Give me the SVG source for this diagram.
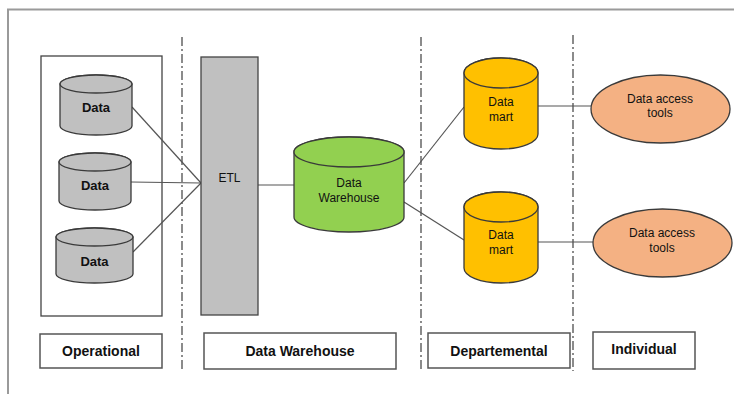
<svg xmlns="http://www.w3.org/2000/svg" width="734" height="394" viewBox="0 0 734 394">
<style>
.cyl{stroke:#3a3a3a;stroke-width:1.3}
.gray{fill:#c0c0c0}
.green{fill:#92d050}
.gold{fill:#ffc000}
.box{fill:#fff;stroke:#555;stroke-width:1.5}
.conn{stroke:#555;stroke-width:1.2;fill:none}
.sep{stroke:#666;stroke-width:1.5;stroke-dasharray:9,3,2,3;fill:none}
.lbl{font-family:"Liberation Sans",Arial,sans-serif;font-weight:bold;font-size:14px;fill:#111;text-anchor:middle}
.dt{font-family:"Liberation Sans",Arial,sans-serif;font-weight:bold;font-size:13px;fill:#111;text-anchor:middle}
.sm{font-family:"Liberation Sans",Arial,sans-serif;font-size:12px;fill:#111;text-anchor:middle}
</style>
<rect width="734" height="394" fill="#fff"/>
<!-- outer frame -->
<path d="M8,394 V9.5 H734" fill="none" stroke="#9a9a9a" stroke-width="2"/>
<g id="operational-group">
<rect x="41" y="56" width="121" height="260" fill="none" stroke="#444" stroke-width="1.3"/>
</g>
<!-- separators -->
<g id="separators">
<line class="sep" x1="182" y1="37" x2="182" y2="371"/>
<line class="sep" x1="421" y1="37" x2="421" y2="371"/>
<line class="sep" x1="573" y1="35" x2="573" y2="371"/>
</g>
<!-- connectors -->
<g id="connectors">
<line class="conn" x1="132" y1="107" x2="201" y2="183"/>
<line class="conn" x1="131" y1="182" x2="201" y2="183"/>
<line class="conn" x1="133" y1="252" x2="201" y2="183"/>
<line class="conn" x1="258" y1="185" x2="294" y2="185"/>
<line class="conn" x1="404" y1="183" x2="464" y2="107"/>
<line class="conn" x1="404" y1="202" x2="464" y2="240"/>
<line class="conn" x1="538" y1="106" x2="591" y2="106"/>
<line class="conn" x1="538" y1="242" x2="593" y2="242"/>
</g>
<g id="data1">
<path class="cyl gray" d="M60,84 A36,9 0 0 1 132,84 V126 A36,9 0 0 1 60,126 Z"/>
<ellipse class="cyl gray" cx="96" cy="84" rx="36" ry="9"/>
<text class="dt" x="96" y="112">Data</text>
</g>
<g id="data2">
<path class="cyl gray" d="M59,162 A36,9 0 0 1 131,162 V201 A36,9 0 0 1 59,201 Z"/>
<ellipse class="cyl gray" cx="95" cy="162" rx="36" ry="9"/>
<text class="dt" x="95" y="190">Data</text>
</g>
<g id="data3">
<path class="cyl gray" d="M56,237 A38.5,9 0 0 1 133,237 V274 A38.5,9 0 0 1 56,274 Z"/>
<ellipse class="cyl gray" cx="94.5" cy="237" rx="38.5" ry="9"/>
<text class="dt" x="94.5" y="266">Data</text>
</g>
<g id="etl">
<rect x="201" y="57" width="57" height="258" class="gray" stroke="#444" stroke-width="1.3"/>
<text class="sm" x="229.5" y="182">ETL</text>
</g>
<g id="data-warehouse">
<path class="cyl green" d="M294,152 A55,15 0 0 1 404,152 V217 A55,15 0 0 1 294,217 Z"/>
<ellipse class="cyl green" cx="349" cy="152" rx="55" ry="15"/>
<text class="sm" x="349" y="187">Data</text>
<text class="sm" x="349" y="202">Warehouse</text>
</g>
<g id="datamart1">
<path class="cyl gold" d="M464,73 A37,15 0 0 1 538,73 V134 A37,15 0 0 1 464,134 Z"/>
<ellipse class="cyl gold" cx="501" cy="73" rx="37" ry="15"/>
<text class="sm" x="501" y="106">Data</text>
<text class="sm" x="501" y="121">mart</text>
</g>
<g id="datamart2">
<path class="cyl gold" d="M464,207 A37,15 0 0 1 538,207 V268 A37,15 0 0 1 464,268 Z"/>
<ellipse class="cyl gold" cx="501" cy="207" rx="37" ry="15"/>
<text class="sm" x="501" y="239">Data</text>
<text class="sm" x="501" y="254">mart</text>
</g>
<g id="tools1">
<ellipse cx="660.5" cy="109" rx="69.5" ry="34" fill="#f4b183" stroke="#3a3a3a" stroke-width="1.3"/>
<text class="sm" x="660" y="103">Data access</text>
<text class="sm" x="660" y="117">tools</text>
</g>
<g id="tools2">
<ellipse cx="662.5" cy="243" rx="69.5" ry="34" fill="#f4b183" stroke="#3a3a3a" stroke-width="1.3"/>
<text class="sm" x="662" y="237">Data access</text>
<text class="sm" x="662" y="252">tools</text>
</g>
<g id="label-operational">
<rect class="box" x="40" y="334" width="122" height="34"/>
<text class="lbl" x="101" y="356">Operational</text>
</g>
<g id="label-datawarehouse">
<rect class="box" x="204" y="333" width="192" height="36"/>
<text class="lbl" x="300" y="356">Data Warehouse</text>
</g>
<g id="label-departemental">
<rect class="box" x="428" y="333" width="142" height="35"/>
<text class="lbl" x="499" y="356">Departemental</text>
</g>
<g id="label-individual">
<rect class="box" x="593" y="332" width="102" height="37"/>
<text class="lbl" x="644" y="354">Individual</text>
</g>
</svg>
